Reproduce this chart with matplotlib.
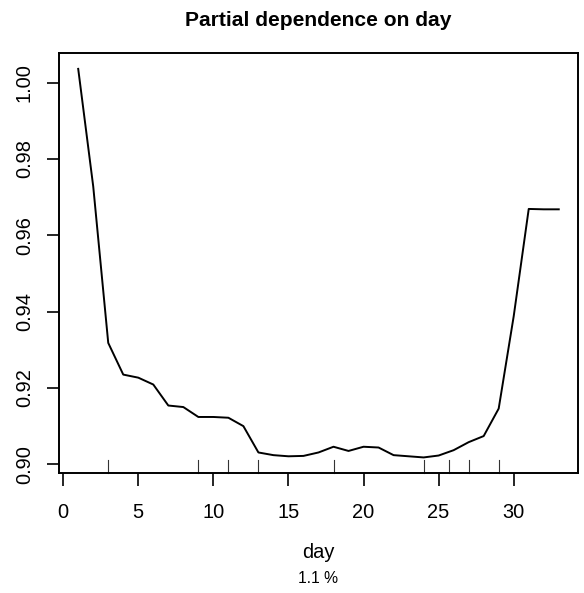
import numpy as np
import matplotlib
matplotlib.use("Agg")
import matplotlib.pyplot as plt

plt.rcParams['font.family'] = ['Liberation Sans', 'DejaVu Sans']

# partial dependence values
days = [1, 2, 3, 4, 5, 6, 7, 8, 9, 10, 11, 12, 13, 14, 15, 16, 17,
        18, 19, 20, 21, 22, 23, 24, 25, 26, 27, 28, 29, 30, 31, 32, 33]
pdep = [1.0036, 0.9728, 0.9318, 0.9235, 0.9227, 0.9209, 0.9154, 0.9150,
        0.9124, 0.9124, 0.9122, 0.9100, 0.9031, 0.9024, 0.9021, 0.9022,
        0.9031, 0.9046, 0.9035, 0.9046, 0.9044, 0.9024, 0.9021, 0.9018,
        0.9023, 0.9037, 0.9058, 0.9074, 0.9146, 0.9388, 0.9669, 0.9668,
        0.9668]
# deciles of day shown as rug
rug_days = [3, 9, 11, 13, 18, 24, 25.7, 27, 29]

x_ticks = [0, 5, 10, 15, 20, 25, 30]
y_ticks = [0.90, 0.92, 0.94, 0.96, 0.98, 1.00]

fig = plt.figure(figsize=(5.84, 5.93), dpi=100)
ax = fig.add_axes([0.101, 0.2024, 0.8887, 0.7077])

ax.plot(days, pdep, color="black", lw=1.4)

# R-style 4% padding on both axes
xr = max(days) - min(days)
yr = max(pdep) - min(pdep)
ax.set_xlim(min(days) - 0.04 * xr, max(days) + 0.04 * xr)
ax.set_ylim(min(pdep) - 0.04 * yr, max(pdep) + 0.04 * yr)

# rug along the bottom, inside the box
for d in rug_days:
    ax.plot([d, d], [0, 0.03], color="#333333", lw=0.8,
            transform=ax.get_xaxis_transform(), clip_on=False)

ax.set_xticks(x_ticks)
ax.set_xticklabels([str(v) for v in x_ticks])
ax.set_yticks(y_ticks)
ax.set_yticklabels([f"{v:.2f}" for v in y_ticks], rotation=90, va="center")

ax.tick_params(axis="both", direction="out", length=9, width=1.2,
               labelsize=14.4, colors="black")
ax.tick_params(axis="x", pad=12.5)
ax.tick_params(axis="y", pad=9)
for s in ax.spines.values():
    s.set_linewidth(1.4)

ax.set_title("Partial dependence on day", fontsize=15.1, fontweight="bold",
             pad=20)
fig.text(318.5 / 584, 1 - 558 / 593, "day", ha="center", va="baseline",
         fontsize=14.4)
fig.text(318.5 / 584, 1 - 583 / 593, "1.1 %", ha="center", va="baseline",
         fontsize=11.3)

fig.savefig("out.png", dpi=100)
